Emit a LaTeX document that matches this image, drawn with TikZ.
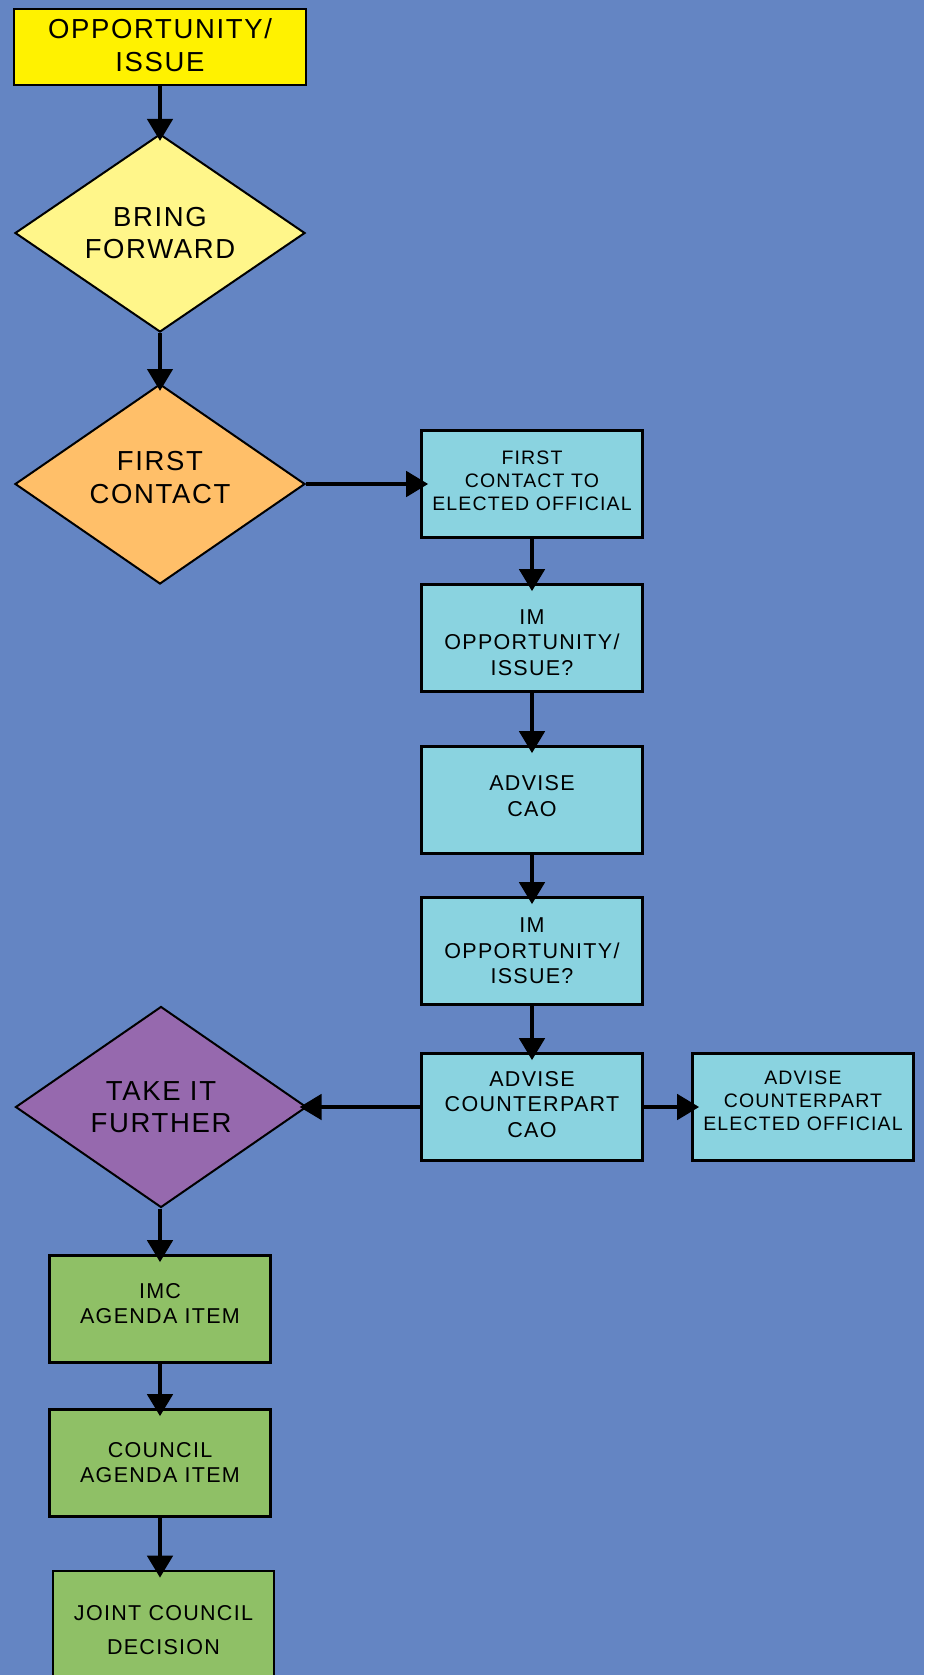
\documentclass[tikz,border=0pt]{standalone}
\usepackage{fontspec}
\setmainfont{Liberation Sans}[LetterSpace=6]
\usetikzlibrary{arrows.meta,shapes.geometric}
\definecolor{bgblue}{RGB}{100,133,195}
\definecolor{startyellow}{RGB}{255,242,0}
\definecolor{paleyellow}{RGB}{255,246,138}
\definecolor{softorange}{RGB}{255,191,105}
\definecolor{lightcyan}{RGB}{138,211,224}
\definecolor{mauve}{RGB}{150,105,174}
\definecolor{leafgreen}{RGB}{143,192,102}
% invisible struts that nudge a label block up (extra depth) or down (extra height)
\newcommand\deepstrut[1]{\rule[-#1]{0pt}{#1}}
\newcommand\tallstrut[1]{\rule{0pt}{#1}}
\tikzset{
  box/.style={draw=black, line width=2.6pt, rectangle, inner sep=0pt,
    minimum width=221pt, minimum height=107pt, align=center},
  cyanbox/.style={box, fill=lightcyan, font=\fontsize{21.5}{25.5}\selectfont},
  cyansmall/.style={box, fill=lightcyan, font=\fontsize{19.5}{23}\selectfont},
  greenbox/.style={box, fill=leafgreen, font=\fontsize{21.5}{25}\selectfont},
  decision/.style={draw=black, line width=2pt, diamond, inner sep=0pt,
    minimum width=290pt, minimum height=198pt, shape aspect=1.46, align=center,
    font=\fontsize{27.5}{32.5}\selectfont},
  flow/.style={line width=4.5pt, -{Triangle[length=22pt,width=25pt]}, shorten >=-8pt}
}
\begin{document}
\begin{tikzpicture}[x=1pt,y=-1pt]
  \fill[bgblue] (0,0) rectangle (924,1675);
  \useasboundingbox (0,0) rectangle (924,1675);
  \begin{scope}
  \clip (0,0) rectangle (924,1675);

  % left column: start and first decisions
  \node[box, fill=startyellow, minimum width=292pt, minimum height=76pt,
        font=\fontsize{27.5}{33}\selectfont] (start) at (160,47) {OPPORTUNITY/\\ISSUE\deepstrut{4pt}};
  \node[decision, fill=paleyellow] (bring) at (160,233) {BRING\\FORWARD};
  \node[decision, fill=softorange, minimum height=200pt] (first) at (160,484) {FIRST\\CONTACT\deepstrut{13pt}};

  % right column: contact chain
  \node[cyansmall] (fcb) at (532,484) {FIRST\\CONTACT TO\\ELECTED OFFICIAL\deepstrut{7pt}};
  \node[cyanbox] (im1) at (532,638) {\tallstrut{24pt}IM\\OPPORTUNITY/\\ISSUE?};
  \node[cyanbox] (cao) at (532,800) {ADVISE\\CAO\deepstrut{8.5pt}};
  \node[cyanbox] (im2) at (532,951) {IM\\OPPORTUNITY/\\ISSUE?};
  \node[cyanbox] (ccao) at (532,1107) {ADVISE\\COUNTERPART\\CAO\deepstrut{6pt}};
  \node[cyansmall] (cel) at (803,1107) {ADVISE\\COUNTERPART\\ELECTED OFFICIAL\deepstrut{13pt}};

  % left column: council path
  \node[decision, fill=mauve, minimum width=291pt, minimum height=201pt] (take) at (161,1107) {TAKE IT\\FURTHER};
  \node[greenbox] (imc) at (160,1309) {IMC\\AGENDA ITEM\deepstrut{11pt}};
  \node[greenbox] (council) at (160,1463) {COUNCIL\\AGENDA ITEM};
  \node[box, fill=leafgreen, minimum height=118pt,
        font=\fontsize{21.5}{34}\selectfont] (joint) at (163.5,1630) {JOINT COUNCIL\\DECISION};

  % connectors
  \draw[flow] (start.south) -- (bring.north);
  \draw[flow] (bring.south) -- (first.north);
  \draw[flow] (first.east) -- (fcb.west);
  \draw[flow] (fcb.south) -- (im1.north);
  \draw[flow] (im1.south) -- (cao.north);
  \draw[flow] (cao.south) -- (im2.north);
  \draw[flow] (im2.south) -- (ccao.north);
  \draw[flow] (ccao.west) -- (take.east);
  \draw[flow] (ccao.east) -- (cel.west);
  \draw[flow] (take.south -| imc.north) -- (imc.north);
  \draw[flow] (imc.south) -- (council.north);
  \draw[flow] (council.south) -- (council.south |- joint.north);
  \end{scope}
\end{tikzpicture}
\end{document}
